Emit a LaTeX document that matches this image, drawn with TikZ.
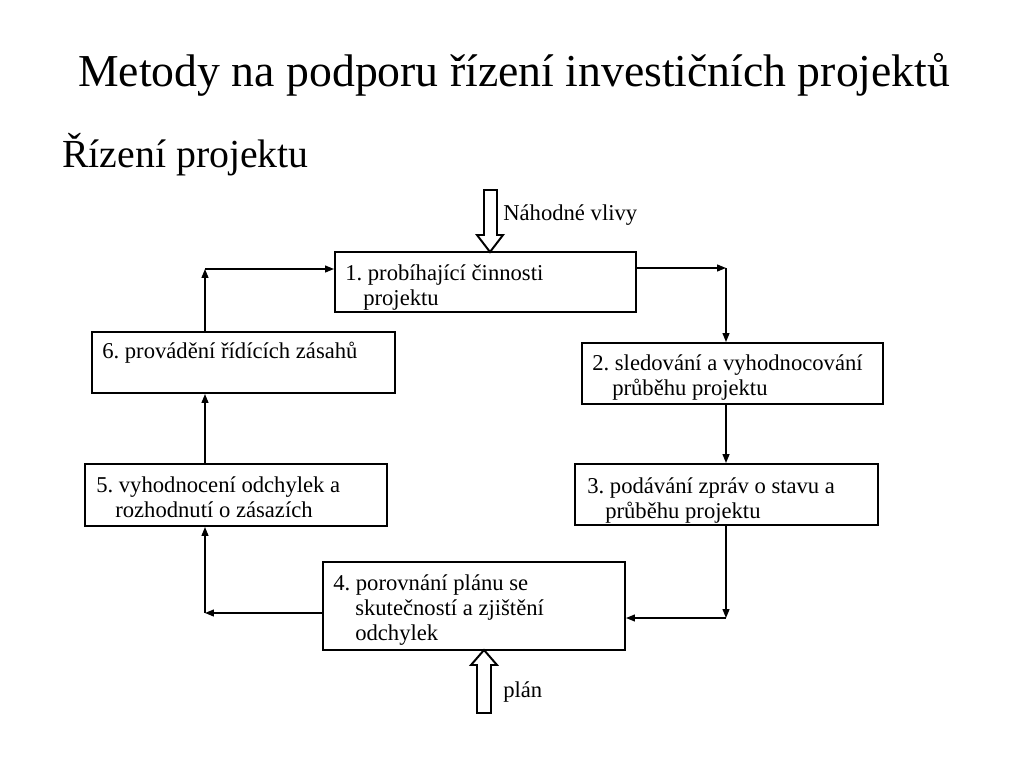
\documentclass[tikz,border=0pt]{standalone}
\usepackage{fontspec}
\setmainfont{Liberation Serif}
\usetikzlibrary{arrows.meta}
\frenchspacing
\begin{document}
\begin{tikzpicture}[x=0.025cm,y=-0.025cm,
  box/.style={draw, line width=1.4pt, inner sep=0pt},
  txt/.style={anchor=base west, inner sep=0pt, font=\fontsize{16.1}{19}\selectfont},
  conn/.style={line width=1pt, -{Triangle[length=2.2mm,width=1.7mm]}},
  blk/.style={draw, line width=1.4pt, fill=white}]
\useasboundingbox (0,0) rectangle (1024,768);
% title
\node[anchor=base west, inner sep=0pt, font=\fontsize{32.5}{38}\selectfont] (title) at (78,87) {Metody na podporu řízení investičních projektů};
\node[anchor=base west, inner sep=0pt, font=\fontsize{28.3}{34}\selectfont] (sub) at (62,168) {Řízení projektu};
% boxes
\node[box, minimum width=7.525cm, minimum height=1.5cm] (b1) at (485.5,282) {};
\node[box, minimum width=7.575cm, minimum height=1.525cm] (b6) at (243.5,362.5) {};
\node[box, minimum width=7.525cm, minimum height=1.525cm] (b2) at (732.5,373.5) {};
\node[box, minimum width=7.55cm, minimum height=1.55cm] (b5) at (236,495) {};
\node[box, minimum width=7.575cm, minimum height=1.525cm] (b3) at (726.5,494.5) {};
\node[box, minimum width=7.55cm, minimum height=2.2cm] (b4) at (474,606) {};
% texts
\node[txt] (t1a) at (345,280) {1. probíhající činnosti};
\node[txt] (t1b) at (363,305) {projektu};
\node[txt] (t6) at (102,358) {6. provádění řídících zásahů};
\node[txt] (t2a) at (592,370) {2. sledování a vyhodnocování};
\node[txt] (t2b) at (612,395) {průběhu projektu};
\node[txt] (t5a) at (96,492) {5. vyhodnocení odchylek a};
\node[txt] (t5b) at (115,517) {rozhodnutí o zásazích};
\node[txt] (t3a) at (587,493) {3. podávání zpráv o stavu a};
\node[txt] (t3b) at (605,518) {průběhu projektu};
\node[txt] (t4a) at (333,590) {4. porovnání plánu se};
\node[txt] (t4b) at (355,615) {skutečností a zjištění};
\node[txt] (t4c) at (355,640) {odchylek};
\node[txt] (lnah) at (503,220) {Náhodné vlivy};
\node[txt] (lplan) at (503,697) {plán};
% corners
\coordinate (c0) at (205,269);
\coordinate (c1) at (726,268);
\coordinate (c3) at (726,618);
\coordinate (c4) at (205,613);
% connectors
\draw[conn] (b1.east |- c1) -- (c1);
\draw[conn] (c1) -- (c1 |- b2.north);
\draw[conn] (b2.south -| c1) -- (b3.north -| c1);
\draw[conn] (b3.south -| c1) -- (c3);
\draw[conn] (c3) -- (b4.east |- c3);
\draw[conn] (b4.west |- c4) -- (c4);
\draw[conn] (c4) -- (c4 |- b5.south);
\draw[conn] (b5.north -| c4) -- (b6.south -| c4);
\draw[conn] (b6.north -| c0) -- (c0);
\draw[conn] (c0) -- (b1.west |- c0);
% block arrows
\draw[blk] (484,190) -- (497,190) -- (497,235) -- (503,235) -- (490,252) -- (477,235) -- (484,235) -- cycle;
\draw[blk] (477,713) -- (491,713) -- (491,665) -- (497,665) -- (484,650) -- (471,665) -- (477,665) -- cycle;
\end{tikzpicture}
\end{document}
